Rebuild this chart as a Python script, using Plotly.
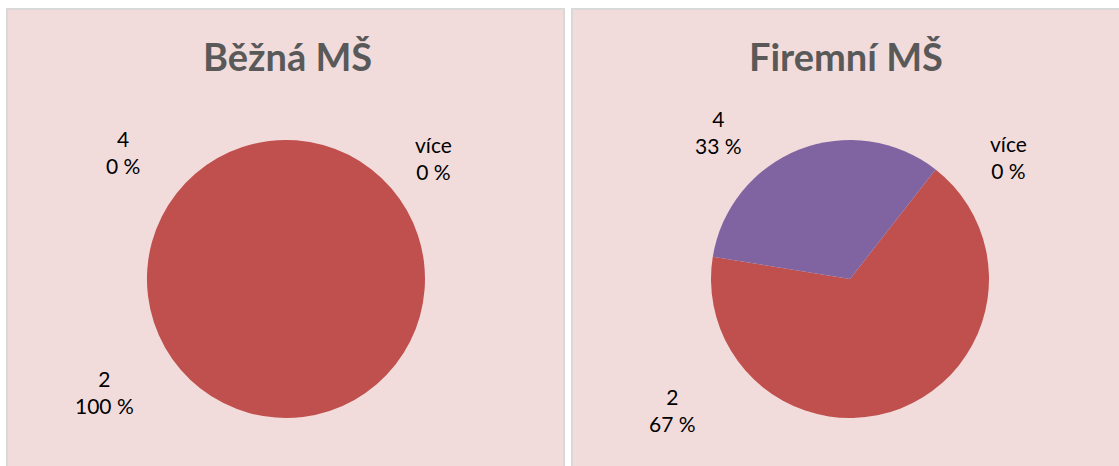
import plotly.graph_objects as go

W, H = 1119, 466

categories = ["2", "4", "více"]
bezna_values = [100, 0, 0]
firemni_values = [67, 33, 0]
titles = ["Běžná MŠ", "Firemní MŠ"]

slice_colors = ["#C0504D", "#8064A2", "#9BBB59"]
panel_bg = "#F2DCDB"
border = "#D9D9D9"
font_family = "Lato, Carlito, Calibri, sans-serif"


def px_x(x):
    return x / W


def px_y(y):
    return 1 - y / H


fig = go.Figure()

pie_boxes = [(147, 425, 140, 418), (711, 989, 140, 418)]
for vals, (x0, x1, y0, y1) in zip([bezna_values, firemni_values], pie_boxes):
    fig.add_trace(go.Pie(
        labels=categories,
        values=vals,
        sort=False,
        direction="clockwise",
        rotation=38,
        textinfo="none",
        hoverinfo="label+percent",
        marker=dict(colors=slice_colors, line=dict(width=0)),
        domain=dict(x=[px_x(x0), px_x(x1)], y=[px_y(y1), px_y(y0)]),
        showlegend=False,
    ))

shapes = []
for x0, x1 in [(7, 564), (572, 1130)]:
    shapes.append(dict(type="rect", xref="paper", yref="paper",
                       x0=px_x(x0), x1=px_x(x1), y0=px_y(480), y1=px_y(9),
                       fillcolor=panel_bg, line=dict(color=border, width=2),
                       layer="below"))

annotations = []
for t, cx in zip(titles, [287, 846]):
    annotations.append(dict(xref="paper", yref="paper", x=px_x(cx), y=px_y(56),
                            text="<b>%s</b>" % t, showarrow=False,
                            xanchor="center", yanchor="middle",
                            font=dict(family=font_family, size=38, color="#595959")))

label_pos = [
    {"2": (104, 392), "4": (123, 152), "více": (433, 158)},
    {"2": (672, 410), "4": (718, 132), "více": (1008, 157)},
]
for vals, pos in zip([bezna_values, firemni_values], label_pos):
    for cat, v in zip(categories, vals):
        x, y = pos[cat]
        annotations.append(dict(xref="paper", yref="paper", x=px_x(x), y=px_y(y),
                                text="%s<br>%d %%" % (cat, v), showarrow=False,
                                xanchor="center", yanchor="middle", align="center",
                                font=dict(family=font_family, size=21, color="#000000")))

fig.update_layout(
    width=W, height=H,
    margin=dict(l=0, r=0, t=0, b=0),
    paper_bgcolor="#FFFFFF",
    plot_bgcolor="#FFFFFF",
    shapes=shapes,
    annotations=annotations,
    showlegend=False,
)

fig.write_html("out.html", config={"displayModeBar": False},
               post_script="document.body.style.margin='0px';")
